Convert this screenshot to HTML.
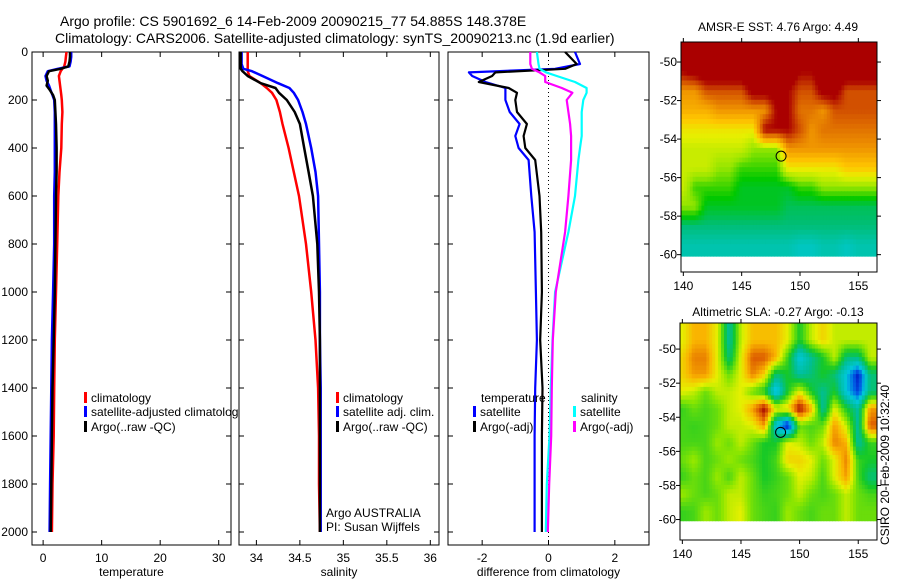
<!DOCTYPE html>
<html><head><meta charset="utf-8">
<style>
body{margin:0;background:#fff;}
svg{display:block;font-family:"Liberation Sans",sans-serif;}
text{fill:#000;}
</style></head>
<body>
<svg id="s" width="900" height="580" xmlns="http://www.w3.org/2000/svg">
<rect width="900" height="580" fill="#fff"/>
<text x="60" y="26" font-size="14">Argo profile: CS 5901692_6 14-Feb-2009 20090215_77 54.885S 148.378E</text>
<text x="55" y="43" font-size="14">Climatology: CARS2006. Satellite-adjusted climatology: synTS_20090213.nc (1.9d earlier)</text>
<text x="778" y="31" font-size="12" text-anchor="middle">AMSR-E SST: 4.76 Argo: 4.49</text>
<text x="778" y="316" font-size="12" text-anchor="middle">Altimetric SLA: -0.27 Argo: -0.13</text>
<text transform="translate(889,545) rotate(-90)" font-size="12">CSIRO 20-Feb-2009 10:32:40</text>
</svg>
<script>
// ---- profile data ----
const tDepth=[0,20,40,60,70,80,100,120,140,160,180,200,250,300,400,500,600,800,1000,1200,1400,1600,1800,2000];
const tempArgo=[4.6,4.6,4.5,4.3,3.0,1.0,0.6,0.8,0.6,1.2,1.7,2.0,2.1,2.2,2.3,2.3,2.2,2.1,2.0,1.8,1.6,1.5,1.4,1.3];
const tempSat=[4.8,4.8,4.7,4.5,2.5,0.8,0.4,0.6,1.0,1.3,1.6,1.9,2.0,2.0,2.0,2.0,1.9,1.9,1.7,1.5,1.4,1.3,1.2,1.1];
const tempClim=[4.0,3.9,3.8,3.6,3.3,3.0,2.7,2.8,2.9,3.0,3.1,3.2,3.3,3.2,3.1,2.8,2.6,2.4,2.2,2.0,1.9,1.8,1.6,1.5];
const sDepth=[0,50,70,80,100,130,150,170,200,250,300,400,500,600,800,1000,1200,1400,1600,1800,2000];
const salArgo=[33.82,33.82,33.82,33.84,33.9,34.05,34.22,34.26,34.35,34.44,34.5,34.55,34.6,34.65,34.70,34.72,34.73,34.73,34.73,34.73,34.73];
const salSat=[33.83,33.83,33.85,33.95,34.07,34.25,34.38,34.43,34.48,34.53,34.57,34.63,34.68,34.71,34.72,34.73,34.73,34.74,34.74,34.74,34.74];
const salClim=[33.9,33.9,33.9,33.9,33.92,34.05,34.12,34.18,34.23,34.27,34.3,34.37,34.43,34.49,34.57,34.63,34.68,34.71,34.72,34.72,34.73];
const dDepth=[0,50,70,85,100,125,150,170,200,250,300,350,400,450,600,750,1000,1200,1400,1600,1800,2000];
const diffTempSat=[0.8,0.95,0.2,-2.4,-2.3,-1.9,-1.3,-1.3,-1.3,-1.17,-0.87,-1.0,-0.9,-0.6,-0.52,-0.42,-0.38,-0.35,-0.4,-0.42,-0.42,-0.42];
const diffTempArgo=[0.5,0.85,0.5,-1.6,-1.7,-2.1,-1.2,-0.95,-1.0,-0.95,-0.65,-0.75,-0.7,-0.4,-0.27,-0.22,-0.2,-0.25,-0.18,-0.2,-0.2,-0.2];
const diffSalSat=[-0.35,-0.3,-0.27,-0.07,0.25,0.8,1.15,1.15,1.05,1.0,1.0,1.0,0.95,0.9,0.8,0.6,0.2,0.12,0.07,0.03,-0.05,-0.08];
const diffSalArgo=[-0.55,-0.55,-0.5,-0.27,-0.1,-0.1,0.4,0.72,0.55,0.6,0.65,0.68,0.68,0.68,0.6,0.5,0.22,0.13,0.1,0.08,0.02,-0.02];
const depthTicks=[0,200,400,600,800,1000,1200,1400,1600,1800,2000];
const tempTicks=[0,10,20,30];
const salTicks=[34,34.5,35,35.5,36];
const salTickLabels=["34","34.5","35","35.5","36"];
const diffTicks=[-2,0,2];
// ---- map data ----
const mapLons=[140,141,142,143,144,145,146,147,148,149,150,151,152,153,154,155,156];
const mapLats=[-49.5,-50.5,-51.5,-52.5,-53.5,-54.5,-55.5,-56.5,-57.5,-58.5,-59.5];
const sstRows=[
[10,10,10,10,10,10,10,10,10,10,10,10,10,10,10,10,10],
[9,9.5,10,10,10,10,10,10,10,10,9,9,10,10,10,10,10],
[7,7,8,8,8,8,9.5,9.5,9.5,9,8,8,9.5,9.5,8,8,8],
[6.5,6.5,6.5,7,7,7,7,7,9,9,7.5,7.5,7,8,8,8,8],
[5.5,5.5,5.5,5.5,5.5,5.5,5.5,9,9,9,8,7,7.5,7.5,7.5,7.5,7.5],
[5,5,5,5,5,5,4.5,4.5,4.5,7,7,7,7,7,7,7,7],
[5,5,5,4.5,4.5,4,4,4,4,5.5,5.5,5.5,5.5,5.5,6,6,6],
[5,4,4,4,4,3.5,3.5,3.5,3.5,3.5,4,4,4.5,4.5,4.5,4.5,4.5],
[4.5,4.5,3.5,3.5,3.5,3.5,3.5,3.5,3.5,3.2,3.2,3.2,3.2,3.2,3.2,3.2,3.2],
[3,3,3,3,3,3,3,3,3,3,3,3,3,3,3,3,3],
[2.7,2.7,2.7,2.7,2.7,2.7,2.7,2.7,2.7,2.7,2.6,2.6,2.7,2.7,2.6,2.7,2.7]];
const slaRows=[
[.12,.18,.18,.12,-.08,.1,.17,.17,.17,.12,0,.1,.15,.1,.1,.1,.1],
[.15,.22,.22,.12,-.05,.12,.25,.25,.18,.02,-.15,-.07,0,.1,-.05,-.05,.1],
[.15,.2,.2,.12,.05,.12,.22,.15,-.05,0,-.08,-.05,0,-.05,-.15,-.28,-.05],
[.12,.1,.05,.1,.1,.12,.05,0,-.18,0,.12,0,-.07,0,-.15,-.25,-.05],
[.02,.05,.03,.05,.1,.12,.2,.32,.12,.15,.32,.18,-.08,.12,0,-.08,.2],
[.03,.02,.03,.05,.1,.1,.12,.2,-.15,-.3,.05,.03,.05,.2,.1,-.08,.25],
[.03,.03,.03,.08,.05,.1,.05,0,0,.12,.1,.05,.1,.22,.18,-.08,.02],
[.05,.08,.03,.05,.08,.05,.03,0,.03,.15,.15,.12,.05,.12,.22,.02,0],
[.02,.05,.03,.08,.03,.1,.05,0,.02,.05,.12,.1,.03,.12,.2,.03,-.05],
[.08,.05,.03,.05,.1,.1,.05,.02,.03,.05,.1,.05,.03,.05,.1,.05,.03],
[.02,.03,.08,.05,.1,.12,.05,.03,.02,.08,.05,.03,.05,.05,.1,.05,.05]];
const argoLon=148.378, argoLat=-54.885;

const NS="http://www.w3.org/2000/svg";
const svg=document.getElementById('s');
function mk(tag,attrs,parent){const e=document.createElementNS(NS,tag);for(const k in attrs)e.setAttribute(k,attrs[k]);(parent||svg).appendChild(e);return e;}
const top0=52, bot=545, dMax=(bot-top0)/0.24;
function yD(d){return top0+d/dMax*(bot-top0);}

function panel(name,x0,x1,xmin,xmax,xt,xtl,xlabel,showY){
  const sx=v=>x0+(v-xmin)/(xmax-xmin)*(x1-x0);
  const g=mk('g',{});
  
  
  const bg=mk('rect',{x:x0,y:top0,width:x1-x0,height:bot-top0,fill:'#fff',stroke:'#000','stroke-width':1},g);
  
  
  depthTicks.forEach(d=>{
    const y=yD(d);
    mk('line',{x1:x0,x2:x0+5,y1:y,y2:y,stroke:'#000'},g);
    mk('line',{x1:x1,x2:x1-5,y1:y,y2:y,stroke:'#000'},g);
    if(showY){const t=mk('text',{x:x0-4,y:y+4,'font-size':12,'text-anchor':'end'},g);t.textContent=d;
      
      }
  });
  xt.forEach((v,i)=>{
    const x=sx(v);
    mk('line',{x1:x,x2:x,y1:bot,y2:bot-5,stroke:'#000'},g);
    mk('line',{x1:x,x2:x,y1:top0,y2:top0+5,stroke:'#000'},g);
    const t=mk('text',{x:x,y:bot+17,'font-size':12,'text-anchor':'middle'},g);t.textContent=xtl[i];
    
    
  });
  const xl=mk('text',{x:(x0+x1)/2,y:bot+31,'font-size':12,'text-anchor':'middle'},g);xl.textContent=xlabel;
  
  
  return {g,sx};
}
function line(p,depths,vals,color,name,w){
  const pts=depths.map((d,i)=>p.sx(vals[i]).toFixed(1)+','+yD(d).toFixed(1)).join(' ');
  const l=mk('polyline',{points:pts,fill:'none',stroke:color,'stroke-width':w||2.5,'stroke-linejoin':'round'},p.g);
  
  
}
function legend(p,x,y,color,label,name){
  mk('rect',{x:x,y:y-10,width:3,height:11,fill:color},p.g);
  const t=mk('text',{x:x+7,y:y,'font-size':12},p.g);t.textContent=label;
  
  
}
const p1=panel('temperature-panel',32,231,-1.9,32.1,tempTicks,tempTicks.map(String),'temperature',true);
line(p1,tDepth,tempClim,'#f00','temp-climatology-line');
line(p1,tDepth,tempSat,'#00f','temp-satellite-line');
line(p1,tDepth,tempArgo,'#000','temp-argo-line');
legend(p1,84,402,'#f00','climatology','legend-climatology');
legend(p1,84,416,'#00f','satellite-adjusted climatology','legend-satellite-adjusted');
legend(p1,84,431,'#000','Argo(..raw -QC)','legend-argo');
const p2=panel('salinity-panel',239,439,33.8,36.1,salTicks,salTickLabels,'salinity',false);
line(p2,sDepth,salClim,'#f00','sal-climatology-line');
line(p2,sDepth,salSat,'#00f','sal-satellite-line');
line(p2,sDepth,salArgo,'#000','sal-argo-line');
legend(p2,336,402,'#f00','climatology','legend-sal-climatology');
legend(p2,336,416,'#00f','satellite adj. clim.','legend-sal-satellite');
legend(p2,336,431,'#000','Argo(..raw -QC)','legend-sal-argo');
const ta=mk('text',{x:326,y:517,'font-size':12},p2.g);ta.textContent='Argo AUSTRALIA';


const tp=mk('text',{x:326,y:531,'font-size':12},p2.g);tp.textContent='PI: Susan Wijffels';


const p3=panel('difference-panel',448,649,-3.03,3.03,diffTicks,diffTicks.map(String),'difference from climatology',false);
mk('line',{x1:p3.sx(0),x2:p3.sx(0),y1:top0,y2:bot,stroke:'#000','stroke-dasharray':'1,3'},p3.g);
line(p3,dDepth,diffTempSat,'#00f','diff-temp-satellite-line',2.2);
line(p3,dDepth,diffTempArgo,'#000','diff-temp-argo-line',2.2);
line(p3,dDepth,diffSalSat,'#0ff','diff-sal-satellite-line',2.2);
line(p3,dDepth,diffSalArgo,'#f0f','diff-sal-argo-line',2.2);
const lt=mk('text',{x:481,y:402,'font-size':12},p3.g);lt.textContent='temperature';


const ls=mk('text',{x:581,y:402,'font-size':12},p3.g);ls.textContent='salinity';


legend(p3,473,416,'#00f','satellite','legend-diff-temp-satellite');
legend(p3,473,431,'#000','Argo(-adj)','legend-diff-temp-argo');
legend(p3,573,416,'#0ff','satellite','legend-diff-sal-satellite');
legend(p3,573,431,'#f0f','Argo(-adj)','legend-diff-sal-argo');

// ---- maps ----
const sstStops=[[2.5,[0,200,210]],[3,[0,190,120]],[3.7,[0,200,0]],[4.5,[150,230,0]],[5.3,[230,240,0]],[6,[255,200,0]],[7,[240,150,0]],[8,[210,80,0]],[9,[170,0,0]]];
const slaStops=[[-0.3,[0,0,190]],[-0.22,[0,100,230]],[-0.15,[0,200,220]],[-0.07,[0,190,150]],[0,[20,200,40]],[0.07,[140,230,0]],[0.12,[230,240,0]],[0.18,[250,180,0]],[0.25,[220,90,0]],[0.32,[160,0,0]]];
function colorFor(stops,v){
  if(v<=stops[0][0])return 'rgb('+stops[0][1].join(',')+')';
  for(let i=1;i<stops.length;i++){if(v<=stops[i][0]){const a=stops[i-1],b=stops[i],t=(v-a[0])/(b[0]-a[0]);
    return 'rgb('+a[1].map((c,k)=>Math.round(c+(b[1][k]-c)*t)).join(',')+')';}}
  return 'rgb('+stops[stops.length-1][1].join(',')+')';
}
function sample(rows,lon,lat){
  // bilinear interpolation between cell centres
  let fc=(lon-mapLons[0]); let fr=(mapLats[0]-lat);
  fc=Math.max(0,Math.min(mapLons.length-1,fc)); fr=Math.max(0,Math.min(mapLats.length-1,fr));
  const c0=Math.floor(fc),r0=Math.floor(fr),c1=Math.min(c0+1,mapLons.length-1),r1=Math.min(r0+1,mapLats.length-1);
  const tc=fc-c0,tr=fr-r0;
  const a=rows[r0][c0]*(1-tc)+rows[r0][c1]*tc, b=rows[r1][c0]*(1-tc)+rows[r1][c1]*tc;
  return a*(1-tr)+b*tr;
}
function map(name,x0,x1,y0,y1,latTop,latBot,rows,stops){
  const lonMin=139.8,lonMax=156.6, step=0.25, latDataBot=-60.1;
  const sx=v=>x0+(v-lonMin)/(lonMax-lonMin)*(x1-x0);
  const sy=v=>y0+(latTop-v)/(latTop-latBot)*(y1-y0);
  const g=mk('g',{});
  
  
  const cid=name+'-clip';
  const cp=mk('clipPath',{id:cid},g);mk('rect',{x:x0,y:y0,width:x1-x0,height:sy(latDataBot)-y0},cp);
  const cg=mk('g',{'clip-path':'url(#'+cid+')'},g);
  for(let lat=latTop;lat>latDataBot-step;lat-=step){
    for(let lon=lonMin;lon<lonMax;lon+=step){
      const v=sample(rows,lon+step/2,lat-step/2);
      const xa=sx(lon),xb=sx(lon+step),ya=sy(lat),yb=sy(lat-step);
      const cell=mk('rect',{x:xa.toFixed(1),y:ya.toFixed(1),width:(xb-xa+0.6).toFixed(1),height:(yb-ya+0.6).toFixed(1),fill:colorFor(stops,v)},cg);
      
      
    }
  }
  const fr=mk('rect',{x:x0,y:y0,width:x1-x0,height:y1-y0,fill:'none',stroke:'#000'},g);
  
  
  [140,145,150,155].forEach(l=>{const x=sx(l);
    mk('line',{x1:x,x2:x,y1:y1,y2:y1+4,stroke:'#000'},g);
    mk('line',{x1:x,x2:x,y1:y0,y2:y0-4,stroke:'#000'},g);
    const t=mk('text',{x:x,y:y1+18,'font-size':12,'text-anchor':'middle'},g);t.textContent=l;
    
    });
  [-50,-52,-54,-56,-58,-60].forEach(l=>{const y=sy(l);
    mk('line',{x1:x0,x2:x0-4,y1:y,y2:y,stroke:'#000'},g);
    mk('line',{x1:x1,x2:x1+4,y1:y,y2:y,stroke:'#000'},g);
    const t=mk('text',{x:x0-4,y:y+4,'font-size':12,'text-anchor':'end'},g);t.textContent=l;
    
    });
  const c=mk('circle',{cx:sx(argoLon),cy:sy(argoLat),r:5,fill:'none',stroke:'#000','stroke-width':1},g);
  
  
}
map('sst-map',681,877,42,272,-48.96,-60.9,sstRows,sstStops);
map('sla-map',680,877,323,540,-48.47,-61.2,slaRows,slaStops);
</script>
</body></html>
